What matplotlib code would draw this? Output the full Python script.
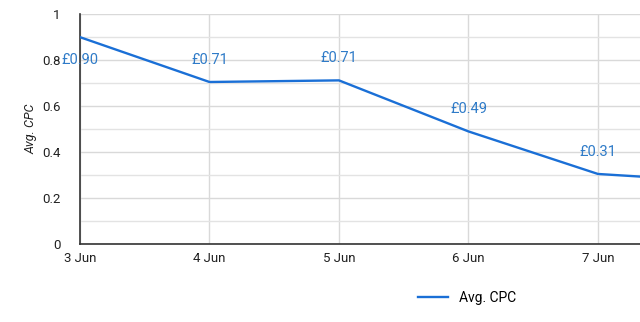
import matplotlib
matplotlib.use("Agg")
import matplotlib.pyplot as plt
import numpy as np

plt.rcParams['font.family'] = ['Roboto', 'DejaVu Sans']

days = [3, 4, 5, 6, 7, 8]
day_labels = ["3 Jun", "4 Jun", "5 Jun", "6 Jun", "7 Jun", "8 Jun"]
avg_cpc = [0.90, 0.705, 0.712, 0.49, 0.305, 0.27]
value_labels = ["£0.90", "£0.71", "£0.71", "£0.49", "£0.31", "£0.27"]
yticks = [0, 0.2, 0.4, 0.6, 0.8, 1]
ytick_labels = ["0", "0.2", "0.4", "0.6", "0.8", "1"]

line_color = "#1a6fd6"
label_color = "#2f7bc8"

fig = plt.figure(figsize=(6.4, 3.22), dpi=100)
ax = fig.add_axes([0.125, 0.242, 0.875, 0.714])

ax.plot(days, avg_cpc, color=line_color, lw=1.7, label="Avg. CPC", zorder=3)

for i, (d, v, t) in enumerate(zip(days, avg_cpc, value_labels)):
    off = -23 if i == 0 else 22
    ax.annotate(t, (d, v), xytext=(0, off), textcoords="offset pixels",
                ha="center", va="center", color=label_color, fontsize=10.5, zorder=4,
                annotation_clip=True)

ax.set_xlim(3, 7.325)
ax.set_ylim(0, 1)
ax.set_xticks(days[:5])
ax.set_xticklabels(day_labels[:5])
ax.set_yticks(yticks)
ax.set_yticklabels(ytick_labels)
ax.set_yticks(np.arange(0.1, 1.0, 0.2), minor=True)
ax.grid(True, which="major", color="#d9d9d9", lw=1)
ax.grid(True, which="minor", axis="y", color="#e3e3e3", lw=1)
ax.set_axisbelow(True)

for s in ["top", "right"]:
    ax.spines[s].set_visible(False)
ax.spines["left"].set_color("#333333")
ax.spines["bottom"].set_color("#333333")
ax.spines["left"].set_linewidth(1.2)
ax.spines["bottom"].set_linewidth(1.2)
ax.tick_params(axis="both", which="both", length=0, labelsize=9.5, colors="#222222")
ax.tick_params(axis="y", pad=14)
ax.tick_params(axis="x", pad=6)

ax.set_ylabel("Avg. CPC", fontsize=9, style="italic", color="#222222", labelpad=3)

leg = fig.legend(handles=ax.get_lines(), loc="center", bbox_to_anchor=(0.73, 0.075),
                 frameon=False, fontsize=10, handlelength=2.2)

fig.savefig("out.png", dpi=100)
